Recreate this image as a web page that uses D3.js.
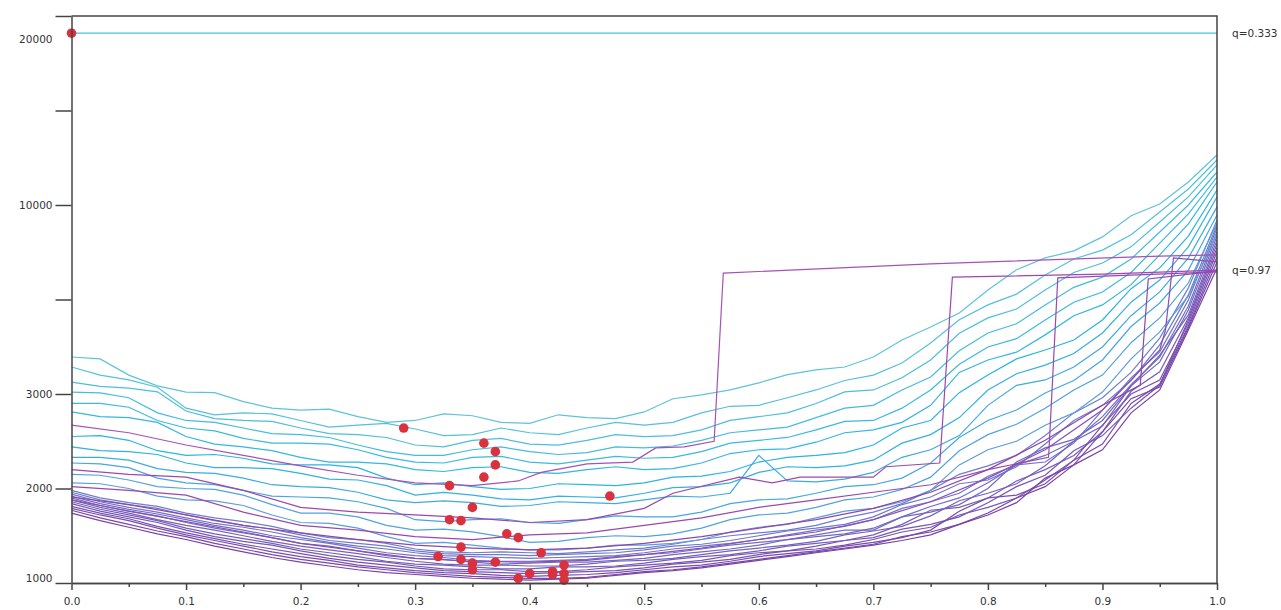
<!DOCTYPE html>
<meta charset="utf-8">
<style>
  body { margin: 0; background: #fff; }
  text { font-family: "DejaVu Sans", sans-serif; font-size: 10.5px; fill: #333; }
</style>
<svg width="1281" height="610"></svg>
<script src="https://d3js.org/d3.v7.min.js"></script>
<script>
  var svg = d3.select("svg"),
      margin = {top: 16, right: 64, bottom: 27, left: 71.5},
      width = +svg.attr("width") - margin.left - margin.right,
      height = +svg.attr("height") - margin.top - margin.bottom,
      g = svg.append("g").attr("transform", "translate(" + margin.left + "," + margin.top + ")");

  // shared x positions of the curves
  var xGrid = [0, 0.025, 0.05, 0.075, 0.1, 0.125, 0.15, 0.175, 0.2, 0.225,
               0.25, 0.275, 0.3, 0.325, 0.35, 0.375, 0.4, 0.425, 0.45, 0.475,
               0.5, 0.525, 0.55, 0.575, 0.6, 0.625, 0.65, 0.675, 0.7, 0.725,
               0.75, 0.775, 0.8, 0.825, 0.85, 0.875, 0.9, 0.925, 0.95, 0.975, 1];

  // axis levels (the axis is spaced evenly between these)
  var yLevels = [1000, 2000, 3000, 6500, 10000, 15500, 21000];
  var yLabels = ["1000", "2000", "3000", "", "10000", "", ""];
  var xTicks = [0, 0.1, 0.2, 0.3, 0.4, 0.5, 0.6, 0.7, 0.8, 0.9, 1.0];
  var xMinor = [0.05, 0.15, 0.25, 0.35, 0.45, 0.55, 0.65, 0.75, 0.85, 0.95];

  // upper (cyan) curves
  var c1  = [4370, 4300, 3700, 3300, 3070, 3050, 2920, 2850, 2830, 2840, 2760, 2700, 2720, 2790, 2770, 2700, 2690, 2780, 2750, 2740, 2810, 2950, 2990, 3150, 3410, 3720, 3890, 4000, 4370, 5000, 5480, 6000, 6850, 7600, 8040, 8300, 8820, 9600, 10060, 11340, 12910];
  var c2  = [4000, 3700, 3520, 3250, 2850, 2780, 2800, 2790, 2720, 2650, 2670, 2690, 2630, 2560, 2570, 2640, 2590, 2570, 2640, 2700, 2670, 2700, 2800, 2870, 2880, 2960, 3150, 3500, 3700, 4150, 4890, 5750, 6300, 6700, 7410, 8000, 8330, 8900, 9740, 10930, 12620];
  var c3  = [3440, 3280, 3220, 3080, 2820, 2740, 2720, 2710, 2640, 2580, 2570, 2540, 2460, 2440, 2510, 2530, 2470, 2460, 2510, 2570, 2550, 2560, 2620, 2720, 2760, 2800, 2900, 3080, 3150, 3600, 4260, 5250, 5820, 6150, 6850, 7500, 7850, 8450, 9370, 10470, 12330];
  var c4  = [3070, 3040, 2960, 2800, 2720, 2700, 2640, 2580, 2570, 2540, 2460, 2390, 2350, 2350, 2410, 2440, 2390, 2360, 2380, 2440, 2430, 2450, 2510, 2590, 2620, 2650, 2750, 2850, 2880, 3150, 3630, 4600, 5260, 5600, 6300, 6950, 7330, 8000, 9000, 10000, 11920];
  var c5  = [2900, 2900, 2860, 2720, 2640, 2610, 2530, 2480, 2480, 2470, 2410, 2330, 2280, 2270, 2330, 2340, 2280, 2260, 2300, 2340, 2320, 2330, 2390, 2480, 2510, 2540, 2620, 2710, 2720, 2850, 3150, 4100, 4740, 5050, 5740, 6400, 6780, 7500, 8590, 9670, 11630];
  var c6  = [2810, 2760, 2750, 2700, 2550, 2470, 2440, 2400, 2330, 2280, 2280, 2260, 2200, 2180, 2220, 2230, 2170, 2160, 2200, 2230, 2200, 2210, 2270, 2370, 2410, 2420, 2490, 2590, 2620, 2700, 2880, 3800, 4260, 4550, 5190, 5900, 6300, 7050, 8150, 9300, 11340];
  var c7  = [2550, 2560, 2510, 2400, 2350, 2360, 2320, 2260, 2250, 2250, 2220, 2110, 2040, 2060, 2020, 1990, 2000, 2050, 2040, 2030, 2060, 2120, 2130, 2180, 2280, 2330, 2350, 2380, 2460, 2640, 2720, 3050, 3700, 4300, 4630, 5000, 5740, 6900, 7670, 8850, 10870];
  var c8  = [2440, 2400, 2390, 2360, 2270, 2220, 2220, 2210, 2160, 2100, 2090, 2030, 1930, 1960, 1930, 1890, 1880, 1920, 1910, 1900, 1950, 2010, 2020, 2060, 2170, 2230, 2220, 2240, 2300, 2480, 2570, 2750, 3150, 3750, 4070, 4500, 5260, 6400, 7220, 8450, 10470];
  var c9  = [2330, 2330, 2300, 2210, 2170, 2160, 2110, 2040, 2020, 2010, 1960, 1880, 1850, 1870, 1850, 1810, 1820, 1860, 1850, 1840, 1880, 1920, 1910, 1950, 2350, 2080, 2070, 2100, 2170, 2330, 2410, 2560, 2880, 3320, 3520, 4000, 4740, 5900, 6780, 8040, 9930];
  var c10 = [2270, 2260, 2220, 2110, 2060, 2040, 1980, 1920, 1910, 1900, 1860, 1790, 1670, 1650, 1670, 1680, 1640, 1630, 1670, 1710, 1700, 1700, 1750, 1840, 1880, 1890, 1950, 2020, 2040, 2110, 2270, 2540, 2720, 2830, 3040, 3500, 4260, 5500, 6370, 7590, 9630];
  var c11 = [2150, 2140, 2090, 2020, 2000, 1990, 1930, 1830, 1740, 1740, 1700, 1610, 1560, 1570, 1540, 1490, 1430, 1440, 1480, 1500, 1490, 1520, 1580, 1670, 1720, 1740, 1800, 1880, 1910, 1990, 2120, 2400, 2570, 2680, 2850, 3150, 3700, 4900, 5820, 7110, 9330];
  var c12 = [2060, 2050, 2000, 1920, 1880, 1870, 1820, 1720, 1640, 1630, 1580, 1490, 1420, 1430, 1400, 1370, 1350, 1350, 1370, 1400, 1400, 1420, 1460, 1540, 1590, 1620, 1690, 1760, 1790, 1860, 1980, 2250, 2410, 2500, 2670, 2800, 3070, 4300, 5300, 6630, 8960];

  // lower (purple) bundle
  var p1  = [1980, 1900, 1850, 1810, 1740, 1690, 1650, 1600, 1530, 1480, 1460, 1420, 1360, 1330, 1320, 1330, 1320, 1310, 1330, 1350, 1370, 1410, 1460, 1500, 1530, 1560, 1610, 1690, 1750, 1840, 1980, 2150, 2240, 2350, 2560, 2800, 2960, 3800, 5070, 6930, 9440];
  var p2  = [1960, 1880, 1830, 1790, 1720, 1660, 1610, 1570, 1510, 1450, 1420, 1390, 1340, 1310, 1300, 1300, 1290, 1300, 1310, 1320, 1350, 1390, 1410, 1450, 1500, 1550, 1580, 1620, 1700, 1830, 1910, 2050, 2090, 2230, 2470, 2720, 2880, 3500, 4820, 6670, 9260];
  var p3  = [1940, 1860, 1800, 1750, 1690, 1630, 1590, 1540, 1480, 1430, 1390, 1360, 1320, 1290, 1280, 1270, 1260, 1270, 1280, 1290, 1320, 1360, 1390, 1420, 1460, 1510, 1560, 1600, 1670, 1790, 1860, 1950, 2130, 2250, 2280, 2480, 2830, 3600, 4560, 6480, 9150];
  var p4  = [1920, 1840, 1780, 1730, 1670, 1610, 1560, 1500, 1460, 1420, 1370, 1320, 1290, 1270, 1240, 1230, 1230, 1240, 1250, 1280, 1300, 1320, 1360, 1400, 1430, 1460, 1510, 1560, 1560, 1700, 1810, 1900, 2060, 2250, 2350, 2500, 2760, 3350, 4370, 6260, 9000];
  var p5  = [1900, 1820, 1760, 1710, 1640, 1580, 1530, 1480, 1420, 1390, 1340, 1290, 1260, 1250, 1220, 1200, 1210, 1220, 1220, 1240, 1260, 1300, 1330, 1360, 1400, 1460, 1490, 1520, 1580, 1700, 1750, 1830, 2000, 2280, 2430, 2520, 2720, 3300, 4190, 6110, 8850];
  var p6  = [1880, 1800, 1740, 1670, 1610, 1560, 1500, 1440, 1390, 1350, 1310, 1270, 1230, 1200, 1190, 1190, 1180, 1180, 1200, 1230, 1240, 1260, 1300, 1340, 1370, 1400, 1440, 1510, 1550, 1600, 1710, 1870, 1950, 2050, 2240, 2500, 2660, 3300, 4440, 5930, 8700];
  var p7  = [1860, 1780, 1720, 1660, 1580, 1520, 1470, 1420, 1360, 1320, 1280, 1230, 1200, 1190, 1170, 1150, 1150, 1170, 1170, 1180, 1210, 1250, 1280, 1300, 1340, 1390, 1420, 1450, 1510, 1620, 1770, 1800, 1900, 2080, 2200, 2350, 2600, 3100, 3820, 5820, 8560];
  var p8  = [1840, 1760, 1700, 1640, 1560, 1490, 1440, 1400, 1340, 1290, 1250, 1220, 1180, 1150, 1140, 1140, 1120, 1120, 1140, 1170, 1190, 1210, 1240, 1290, 1320, 1340, 1390, 1450, 1480, 1570, 1620, 1700, 1850, 2020, 2140, 2400, 2560, 2850, 3330, 5740, 8410];
  var p9  = [1810, 1740, 1680, 1600, 1530, 1470, 1410, 1360, 1310, 1260, 1220, 1190, 1160, 1130, 1120, 1110, 1100, 1110, 1120, 1130, 1160, 1200, 1220, 1250, 1300, 1340, 1360, 1400, 1460, 1540, 1590, 1720, 1800, 1900, 2090, 2300, 2670, 3000, 3520, 5630, 8260];
  var p10 = [1790, 1720, 1660, 1580, 1510, 1450, 1390, 1330, 1280, 1240, 1190, 1160, 1130, 1110, 1100, 1080, 1070, 1080, 1090, 1110, 1140, 1170, 1190, 1230, 1280, 1310, 1340, 1390, 1430, 1480, 1560, 1760, 1900, 1930, 2050, 2300, 2470, 2900, 3370, 5520, 8080];
  var p11 = [1770, 1690, 1620, 1550, 1490, 1420, 1360, 1300, 1250, 1210, 1170, 1140, 1110, 1090, 1070, 1060, 1050, 1050, 1060, 1090, 1120, 1140, 1170, 1210, 1250, 1290, 1330, 1370, 1410, 1490, 1540, 1620, 1740, 1900, 2020, 2250, 2600, 2950, 3260, 5450, 7890];
  var p12 = [1740, 1660, 1590, 1520, 1460, 1390, 1330, 1270, 1220, 1180, 1140, 1110, 1090, 1070, 1050, 1040, 1030, 1040, 1050, 1080, 1110, 1130, 1160, 1200, 1240, 1280, 1320, 1360, 1400, 1450, 1510, 1620, 1720, 1850, 2110, 2250, 2410, 2800, 3150, 5370, 7670];

  // curves that jump up to the q=0.97 level
  var m1X = [0, 0.05, 0.1, 0.15, 0.2, 0.25, 0.3, 0.35, 0.39, 0.41, 0.45, 0.49, 0.51, 0.535, 0.561, 0.569, 0.75, 0.95, 1];
  var m1Y = [2670, 2590, 2460, 2350, 2240, 2140, 2060, 2030, 2080, 2170, 2260, 2280, 2430, 2440, 2500, 7480, 7820, 8110, 8150];
  var m2X = [0, 0.05, 0.1, 0.15, 0.2, 0.25, 0.3, 0.35, 0.4, 0.45, 0.5, 0.525, 0.583, 0.612, 0.636, 0.7, 0.711, 0.758, 0.769, 0.9, 1];
  var m2Y = [2200, 2150, 2120, 1980, 1800, 1750, 1720, 1690, 1640, 1670, 1790, 1950, 2120, 2060, 2120, 2120, 2230, 2270, 7330, 7440, 7590];
  var m3X = [0, 0.05, 0.1, 0.15, 0.2, 0.25, 0.3, 0.35, 0.4, 0.45, 0.5, 0.55, 0.6, 0.65, 0.7, 0.75, 0.8, 0.853, 0.861, 1];
  var m3Y = [2020, 1980, 1930, 1750, 1610, 1560, 1490, 1460, 1510, 1530, 1610, 1690, 1800, 1880, 1960, 2040, 2200, 2330, 7300, 7520];
  var m4X = [0, 0.05, 0.1, 0.15, 0.2, 0.25, 0.3, 0.35, 0.4, 0.45, 0.5, 0.55, 0.6, 0.65, 0.7, 0.75, 0.8, 0.85, 0.9, 0.933, 0.94, 1];
  var m4Y = [1910, 1830, 1720, 1610, 1530, 1460, 1400, 1370, 1350, 1370, 1420, 1490, 1580, 1670, 1790, 1960, 2200, 2510, 2880, 3330, 7260, 7560];
  var m5X = [0, 0.05, 0.1, 0.15, 0.2, 0.25, 0.3, 0.35, 0.4, 0.45, 0.5, 0.55, 0.6, 0.65, 0.7, 0.75, 0.8, 0.85, 0.9, 0.95, 0.955, 0.962, 1];
  var m5Y = [1880, 1760, 1650, 1540, 1420, 1340, 1260, 1230, 1220, 1240, 1300, 1370, 1460, 1540, 1670, 1860, 2110, 2410, 2830, 4630, 5370, 8040, 7890];

  // flat q=0.333 curve
  var qLowX = [0, 1];
  var qLowY = [20000, 20000];

  // minimum markers
  var dotX = [0, 0.29, 0.36, 0.37, 0.37, 0.36, 0.33, 0.47, 0.35, 0.33, 0.34, 0.38, 0.39, 0.34, 0.41, 0.32, 0.34, 0.37, 0.35, 0.35, 0.43, 0.42, 0.42, 0.43, 0.40, 0.39, 0.43];
  var dotY = [20000, 2640, 2480, 2390, 2250, 2120, 2030, 1920, 1800, 1670, 1660, 1520, 1480, 1380, 1320, 1280, 1250, 1220, 1210, 1140, 1190, 1120, 1090, 1100, 1100, 1050, 1030];

  var x = d3.scaleLinear().domain([0, 1]).range([0, width]);
  var y = d3.scaleLinear()
      .domain(yLevels)
      .range(yLevels.map(function(d, i) { return height - i * height / 6; }));

  var line = d3.line()
      .x(function(d) { return x(d[0]); })
      .y(function(d) { return y(d[1]); });

  function onGrid(vals) {
    return vals.map(function(v, i) { return [xGrid[i], v]; });
  }
  function zip(xs, ys) {
    return xs.map(function(v, i) { return [v, ys[i]]; });
  }

  var cyan = [c1, c2, c3, c4, c5, c6, c7, c8, c9, c10, c11, c12];
  var bundle = [p1, p2, p3, p4, p5, p6, p7, p8, p9, p10, p11, p12];
  var steps = [zip(m5X, m5Y), zip(m4X, m4Y), zip(m3X, m3Y), zip(m2X, m2Y), zip(m1X, m1Y)];

  var cyanColor = d3.scaleLinear().domain([0, 6, 11]).range(["#5ec3d8", "#2bb4e2", "#5a9edc"]);
  var bundleColor = d3.scaleLinear().domain([0, 11]).range(["#6f7dd0", "#7b42a6"]);
  var stepColor = ["#8a4fb3", "#8e46aa", "#9a48ad", "#9d48ae", "#a651b6"];

  g.selectAll(".bundle")
    .data(bundle)
    .enter().append("path")
      .attr("class", "bundle")
      .attr("fill", "none")
      .attr("stroke", function(d, i) { return bundleColor(i); })
      .attr("stroke-width", 1.2)
      .attr("d", function(d) { return line(onGrid(d)); });

  g.selectAll(".cyan")
    .data(cyan)
    .enter().append("path")
      .attr("class", "cyan")
      .attr("fill", "none")
      .attr("stroke", function(d, i) { return cyanColor(i); })
      .attr("stroke-width", 1.2)
      .attr("d", function(d) { return line(onGrid(d)); });

  g.selectAll(".step")
    .data(steps)
    .enter().append("path")
      .attr("class", "step")
      .attr("fill", "none")
      .attr("stroke", function(d, i) { return stepColor[i]; })
      .attr("stroke-width", 1.2)
      .attr("d", line);

  g.append("path")
      .datum(zip(qLowX, qLowY))
      .attr("fill", "none")
      .attr("stroke", "#45c3e2")
      .attr("stroke-width", 1.2)
      .attr("d", line);

  g.selectAll(".dot")
    .data(zip(dotX, dotY))
    .enter().append("circle")
      .attr("class", "dot")
      .attr("cx", function(d) { return x(d[0]); })
      .attr("cy", function(d) { return y(d[1]); })
      .attr("r", 4.8)
      .attr("fill", "#d9323e");

  // axes
  var xAxis = g.append("g")
      .attr("transform", "translate(0," + height + ")")
      .call(d3.axisBottom(x).tickValues(xTicks).tickFormat(d3.format(".1f"))
            .tickSize(7).tickSizeOuter(0).tickPadding(8));

  var xAxisMinor = g.append("g")
      .attr("transform", "translate(0," + height + ")")
      .call(d3.axisBottom(x).tickValues(xMinor).tickFormat("").tickSize(4).tickSizeOuter(0));

  var yAxis = g.append("g")
      .call(d3.axisLeft(y).tickValues(yLevels)
            .tickFormat(function(d, i) { return yLabels[i]; })
            .tickSize(16).tickSizeOuter(0).tickPadding(3));

  yAxis.selectAll(".tick text")
      .filter(function(d) { return d === 1000; })
      .attr("y", -5);

  g.append("text")
      .attr("x", -19)
      .attr("y", y(20000) + 6)
      .attr("dy", "0.32em")
      .attr("text-anchor", "end")
      .text("20000");

  // frame top and right
  g.append("path")
      .attr("d", "M0,0H" + width + "V" + height)
      .attr("fill", "none")
      .attr("stroke", "#444")
      .attr("stroke-width", 1.5);

  [xAxis, xAxisMinor, yAxis].forEach(function(a) {
    a.selectAll("path, line").attr("stroke", "#444").attr("stroke-width", 1.5);
    a.selectAll("text").attr("fill", "#333").style("font-family", "DejaVu Sans, sans-serif").style("font-size", "10.5px");
  });

  // curve labels on the right
  g.append("text")
      .attr("x", width + 15)
      .attr("y", y(20000))
      .attr("dy", "0.32em")
      .text("q=0.333");

  g.append("text")
      .attr("x", width + 15)
      .attr("y", y(7560))
      .attr("dy", "0.32em")
      .text("q=0.97");
</script>
